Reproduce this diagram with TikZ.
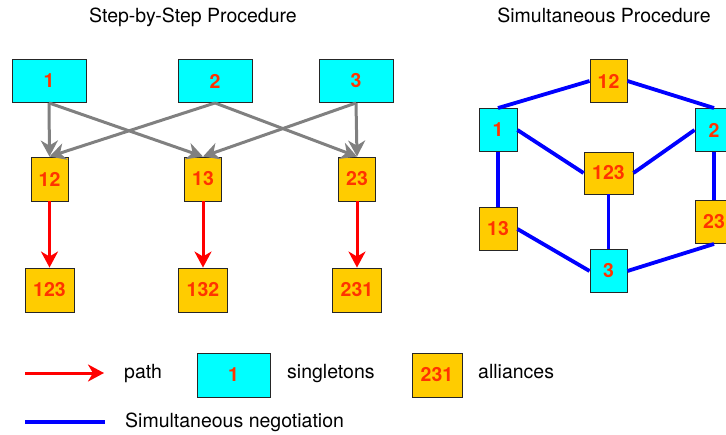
\documentclass[tikz,border=0pt]{standalone}
\usepackage{fontspec}
\setmainfont{TeX Gyre Heros}
\usetikzlibrary{arrows.meta}
\definecolor{numred}{RGB}{255,51,0}
\definecolor{singcol}{RGB}{0,255,255}
\definecolor{allicol}{RGB}{255,204,0}
\definecolor{arrgray}{RGB}{128,128,128}
\definecolor{negblue}{RGB}{0,0,255}
\begin{document}
\begin{tikzpicture}[x=1pt,y=-1pt,
  txt/.style={font=\fontsize{19.5}{23}\selectfont, inner sep=0pt},
  box/.style={draw=black!85, line width=0.9pt, inner sep=0pt, text=numred,
    font=\fontsize{19.5}{23}\selectfont\bfseries},
  singbox/.style={box, fill=singcol},
  allibox/.style={box, fill=allicol},
  tip/.style={-{Stealth[length=16pt,width=17pt,inset=5pt]}},
  grayarr/.style={draw=arrgray, line width=3pt, tip},
  redarr/.style={draw=red, line width=3pt, tip},
  negline/.style={draw=negblue, line width=3.8pt}
]
\useasboundingbox (0,0) rectangle (726,434);
% titles
\node[txt, anchor=base] (t1) at (193,22) {Step-by-Step Procedure};
\node[txt, anchor=base] (t2) at (604,22) {Simultaneous Procedure};
% step-by-step
\node[singbox, minimum width=74pt, minimum height=43pt] (s1) at (49,81) {1};
\node[singbox, minimum width=74pt, minimum height=43pt] (s2) at (215,81) {2};
\node[singbox, minimum width=74pt, minimum height=43pt] (s3) at (356,81) {3};
\node[allibox, minimum width=37pt, minimum height=44pt] (a12) at (49.5,179) {12};
\node[allibox, minimum width=37pt, minimum height=44pt] (a13) at (203,179) {13};
\node[allibox, minimum width=37pt, minimum height=44pt] (a23) at (357,179) {23};
\node[allibox, minimum width=49pt, minimum height=44pt] (a123) at (49.5,290) {123};
\node[allibox, minimum width=49pt, minimum height=44pt] (a132) at (203,290) {132};
\node[allibox, minimum width=49pt, minimum height=44pt] (a231) at (357,290) {231};
\draw[grayarr] (s1.south) -- (a12.north);
\draw[grayarr] (s1.south) -- (a13.north);
\draw[grayarr] (s2.south) -- (a12.north);
\draw[grayarr] (s2.south) -- (a23.north);
\draw[grayarr] (s3.south) -- (a13.north);
\draw[grayarr] (s3.south) -- (a23.north);
\draw[redarr] (a12.south) -- (a123.north);
\draw[redarr] (a13.south) -- (a132.north);
\draw[redarr] (a23.south) -- (a231.north);
% simultaneous
\node[allibox, minimum width=37pt, minimum height=43pt] (r12) at (608.5,81) {12};
\node[singbox, minimum width=38pt, minimum height=43pt] (r1) at (498,130) {1};
\node[singbox, minimum width=38pt, minimum height=43pt] (r2) at (714,130) {2};
\node[allibox, minimum width=49pt, minimum height=42pt] (r123) at (608.5,173) {123};
\node[allibox, minimum width=38pt, minimum height=43pt] (r13) at (498,229) {13};
\node[allibox, minimum width=38pt, minimum height=43pt] (r23) at (714,222) {23};
\node[singbox, minimum width=37pt, minimum height=43pt] (r3) at (608.5,271) {3};
\draw[negline] (r1.north) -- (r12.west);
\draw[negline] (r12.east) -- (r2.north);
\draw[negline] (r1.east) -- (r123.west);
\draw[negline] (r123.east) -- (r2.west);
\draw[negline] (r1.south) -- (r13.north);
\draw[negline] (r2.south) -- (r23.north);
\draw[negline] (r123.south) -- (r3.north);
\draw[negline] (r13.east) -- (r3.west);
\draw[negline] (r3.east) -- (r23.south);
% legend
\coordinate (lp1) at (25,373);
\coordinate (lp2) at (104,373);
\draw[redarr] (lp1) -- (lp2);
\node[txt, anchor=base west] (lpath) at (124,378) {path};
\node[singbox, minimum width=73pt, minimum height=44pt] (lsing) at (233.5,375) {1};
\node[txt, anchor=base west] (lsingt) at (287,378) {singletons};
\node[allibox, minimum width=50pt, minimum height=44pt] (lalli) at (437,375) {231};
\node[txt, anchor=base west] (lallit) at (478,378) {alliances};
\coordinate (lb1) at (25,422);
\coordinate (lb2) at (105,422);
\draw[negline, line width=3.5pt] (lb1) -- (lb2);
\node[txt, anchor=base west] (lneg) at (125,427) {Simultaneous negotiation};
\end{tikzpicture}
\end{document}
